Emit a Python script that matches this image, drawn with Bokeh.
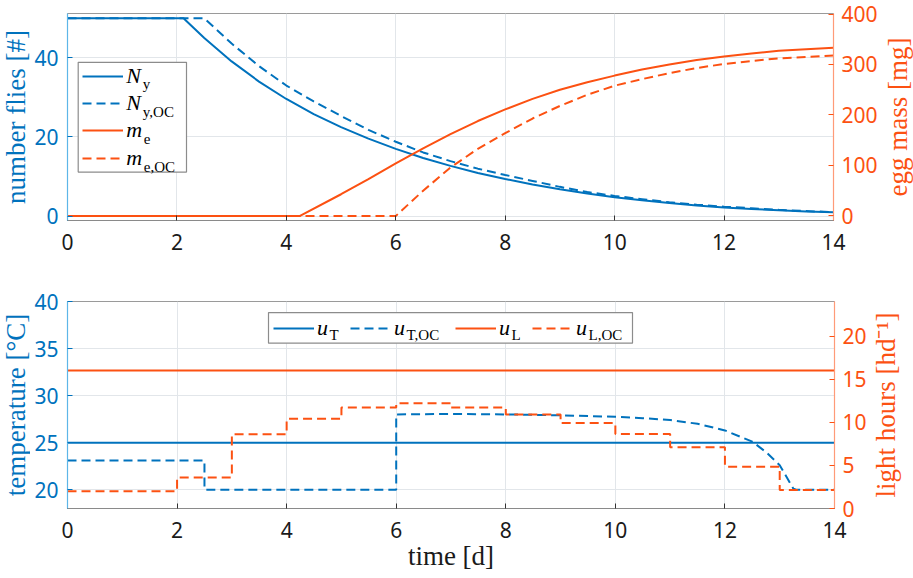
import math
from bokeh.plotting import figure
from bokeh.models import (Range1d, LinearAxis, FixedTicker, Legend, LegendItem,
                          Label, BoxAnnotation)
from bokeh.layouts import column, row
from bokeh.embed import file_html
from bokeh.resources import INLINE

# ------------------------------------------------------------------ data
x_ticks = [0, 2, 4, 6, 8, 10, 12, 14]

# top panel: number of flies (left axis) and egg mass (right axis)
t_ny = [0, 2.12, 2.5, 3, 3.5, 4, 4.5, 5, 5.5, 6, 6.5, 7, 7.5, 8, 8.5, 9,
        9.5, 10, 10.5, 11, 11.5, 12, 12.5, 13, 13.5, 14]
n_y = [50, 50, 45.0, 39.1, 34.0, 29.6, 25.8, 22.5, 19.6, 17.0, 14.7, 12.7,
       10.9, 9.4, 8.0, 6.8, 5.7, 4.8, 4.0, 3.3, 2.7, 2.2, 1.8, 1.5, 1.2, 1.0]
t_ny_oc = [0, 2.5, 3, 3.5, 4, 4.5, 5, 5.5, 6, 6.5, 7, 7.5, 8, 8.5, 9, 9.5,
           10, 10.5, 11, 11.5, 12, 12.5, 13, 13.5, 14]
n_y_oc = [50, 50, 43.6, 37.9, 33.0, 29.0, 25.3, 21.8, 18.8, 16.1, 13.9, 12.0,
          10.4, 8.9, 7.4, 6.1, 5.1, 4.3, 3.5, 2.9, 2.4, 2.0, 1.6, 1.3, 1.0]
t_me = [0, 4.25, 5, 5.5, 6, 6.5, 7, 7.5, 8, 8.5, 9, 9.5, 10, 10.5, 11, 11.5,
        12, 12.5, 13, 13.5, 14]
m_e = [0, 0, 43, 73, 104, 134, 162, 188, 211, 232, 250, 265, 278, 290, 300,
       309, 316, 322, 327, 330, 333]
t_me_oc = [0, 6, 6.5, 7, 7.5, 8, 8.5, 9, 9.5, 10, 10.5, 11, 11.5, 12, 12.5,
           13, 13.5, 14]
m_e_oc = [0, 0, 50, 96, 133, 164, 193, 218, 240, 258, 271, 283, 293, 301, 307,
          312, 315, 318]
flies_ticks = [0, 20, 40]
egg_ticks = [0, 100, 200, 300, 400]

# bottom panel: temperature (left axis) and light hours (right axis)
t_T = [0, 14]
u_T = [25, 25]
t_T_oc = [0, 2.5, 2.5, 6, 6, 7, 8, 9, 10, 10.5, 11, 11.5, 12, 12.5, 12.75,
          13, 13.25, 13.3, 14]
u_T_oc = [23.1, 23.1, 20.0, 20.0, 28.0, 28.05, 28.0, 27.9, 27.75, 27.6, 27.4,
          27.0, 26.3, 25.1, 24.0, 22.6, 20.1, 20.0, 20.0]
t_L = [0, 14]
u_L = [16, 16]
t_L_oc = [0, 2, 3, 4, 5, 6, 7, 8, 9, 10, 11, 12, 13, 14]
u_L_oc = [2.0, 3.6, 8.6, 10.4, 11.7, 12.2, 11.7, 10.9, 9.9, 8.65, 7.1, 4.85,
          2.15, 2.15]
temp_ticks = [20, 25, 30, 35, 40]
light_ticks = [0, 5, 10, 15, 20]

# ------------------------------------------------------------------ style
BLUE = "#0072BD"
BLUE_AX = "#5DB6E8"
ORANGE = "#FC5112"
ORANGE_AX = "#FF9B78"
GRID = "#E2E6EA"
TICK_FONT = "Noto Sans"
TICK_SIZE = "21px"
SERIF = "Liberation Serif"
LABEL_SIZE = "27px"
DASH = "9 5"
LW = 2

SL, L, FW = 30, 37, 767                  # left strip, left border, frame
R1, SR1 = 46, 33                         # top panel right border / strip
R2, SR2 = 36, 43                         # bottom panel right border / strip
F = 207                                  # frame height of each panel
T1, B1 = 13, 69                          # top panel borders
T2, B2 = 12, 70                          # bottom panel borders
H1 = T1 + F + B1
H2 = T2 + F + B2


def make_fig(height, right, yr, mbt, mbb):
    p = figure(width=L + FW + right, height=height, x_range=Range1d(0, 14),
               y_range=Range1d(*yr), output_backend="svg",
               toolbar_location=None, min_border_left=L,
               min_border_right=right, min_border_top=mbt,
               min_border_bottom=mbb, outline_line_color="#9a9a9a",
               outline_line_width=1, background_fill_color="white",
               border_fill_color="white")
    ax = p.xaxis[0]
    ax.ticker = FixedTicker(ticks=x_ticks)
    ax.major_tick_in = 5
    ax.major_tick_out = 0
    ax.minor_tick_line_color = None
    ax.axis_line_color = "#8a8a8a"
    ax.major_tick_line_color = "#333333"
    ax.major_label_text_font = TICK_FONT
    ax.major_label_text_font_size = TICK_SIZE
    ax.major_label_text_color = "#1a1a1a"
    ax.major_label_standoff = 13
    p.xgrid.ticker = FixedTicker(ticks=x_ticks)
    p.xgrid.grid_line_color = GRID
    p.ygrid.grid_line_color = GRID
    return p


def style_y(ax, color, axcolor, ticks, standoff):
    ax.ticker = FixedTicker(ticks=ticks)
    ax.major_tick_in = 5
    ax.major_tick_out = 0
    ax.minor_tick_line_color = None
    ax.axis_line_color = axcolor
    ax.axis_line_width = 1.2
    ax.major_tick_line_color = color
    ax.major_label_text_color = color
    ax.major_label_text_font = TICK_FONT
    ax.major_label_text_font_size = TICK_SIZE
    ax.major_label_standoff = standoff


def strip(width, height, x, text, color):
    s = figure(width=width, height=height, x_range=Range1d(0, 1),
               y_range=Range1d(0, 1), output_backend="svg",
               toolbar_location=None, x_axis_location=None,
               y_axis_location=None, min_border_left=0, min_border_right=0,
               min_border_top=0, min_border_bottom=0,
               outline_line_color=None, background_fill_color="white",
               border_fill_color="white")
    s.grid.visible = False
    s.add_layout(Label(x=x, y=F / 2, x_units="screen", y_units="screen",
                       text=text, angle=math.pi / 2, angle_units="rad",
                       text_font=SERIF, text_font_size=LABEL_SIZE,
                       text_align="center", text_baseline="middle",
                       text_color=color))
    return s


def sub_label(p, x, y, text):
    p.add_layout(Label(x=x, y=y, x_units="screen", y_units="screen",
                       text=text, text_font=SERIF, text_font_size="15px",
                       text_baseline="alphabetic", text_align="left",
                       text_color="#000000"))


def legend_box(p, left, right, bottom, top):
    p.add_layout(BoxAnnotation(left=left, right=right, bottom=bottom, top=top,
                               left_units="screen", right_units="screen",
                               bottom_units="screen", top_units="screen",
                               fill_color="white", fill_alpha=1,
                               line_color="#8c8c8c", line_width=1.2,
                               line_alpha=1))


def legend_item(p, x, yc, renderer, text, sub, dx, dy):
    lg = Legend(items=[LegendItem(label=text, renderers=[renderer])],
                location=(x, yc - 13), orientation="vertical", margin=0,
                padding=0, spacing=0, glyph_width=41, glyph_height=26,
                label_height=26, label_width=10, label_standoff=3,
                border_line_color=None, background_fill_alpha=0,
                label_text_font=SERIF, label_text_font_style="italic",
                label_text_font_size="22px", label_text_color="#000000")
    p.add_layout(lg, "center")
    sub_label(p, x + 44 + dx, yc - dy, sub)


# ------------------------------------------------------------------ top
p1 = make_fig(H1, R1, (-1.1, 51.2), T1, B1)
p1.extra_y_ranges = {"egg": Range1d(-9, 401)}
style_y(p1.yaxis[0], BLUE, BLUE_AX, flies_ticks, 9)
p1.ygrid.ticker = FixedTicker(ticks=flies_ticks)
ax_r1 = LinearAxis(y_range_name="egg")
style_y(ax_r1, ORANGE, ORANGE_AX, egg_ticks, 8)
p1.add_layout(ax_r1, "right")

r_ny = p1.line(t_ny, n_y, line_color=BLUE, line_width=LW)
r_nyoc = p1.line(t_ny_oc, n_y_oc, line_color=BLUE, line_width=LW,
                 line_dash=DASH)
r_me = p1.line(t_me, m_e, line_color=ORANGE, line_width=LW,
               y_range_name="egg")
r_meoc = p1.line(t_me_oc, m_e_oc, line_color=ORANGE, line_width=LW,
                 line_dash=DASH, y_range_name="egg")

legend_box(p1, 10.7, 119, 48.4, 158.2)
for yc, r, txt, sub, dx in [(144.3, r_ny, "N", "y", 16),
                            (117.0, r_nyoc, "N", "y,OC", 16),
                            (89.7, r_me, "m", "e", 17),
                            (62.0, r_meoc, "m", "e,OC", 17)]:
    legend_item(p1, 15.3, yc, r, txt, sub, dx, 8)

sL1 = strip(SL, H1, 15, "number flies [#]", BLUE)
sR1 = strip(SR1, H1, 17, "egg mass [mg]", ORANGE)

# ------------------------------------------------------------------ bottom
p2 = make_fig(H2, R2, (18, 40), T2, B2)
p2.extra_y_ranges = {"light": Range1d(0, 24)}
style_y(p2.yaxis[0], BLUE, BLUE_AX, temp_ticks, 9)
p2.ygrid.ticker = FixedTicker(ticks=temp_ticks)
ax_r2 = LinearAxis(y_range_name="light")
style_y(ax_r2, ORANGE, ORANGE_AX, light_ticks, 8)
p2.add_layout(ax_r2, "right")
p2.xaxis[0].axis_label = "time [d]"
p2.xaxis[0].axis_label_text_font = SERIF
p2.xaxis[0].axis_label_text_font_size = LABEL_SIZE
p2.xaxis[0].axis_label_text_font_style = "normal"
p2.xaxis[0].axis_label_text_color = "#1a1a1a"
p2.xaxis[0].axis_label_standoff = 0

r_uT = p2.line(t_T, u_T, line_color=BLUE, line_width=LW)
r_uToc = p2.line(t_T_oc, u_T_oc, line_color=BLUE, line_width=LW,
                 line_dash=DASH)
r_uL = p2.line(t_L, u_L, line_color=ORANGE, line_width=LW,
               y_range_name="light")
r_uLoc = p2.step(t_L_oc, u_L_oc, mode="after", line_color=ORANGE,
                 line_width=LW, line_dash=DASH, y_range_name="light")

legend_box(p2, 201, 565, 165.3, 195.9)
for xs, r, sub in [(206, r_uT, "T"), (283, r_uToc, "T,OC"),
                   (388, r_uL, "L"), (465, r_uLoc, "L,OC")]:
    legend_item(p2, xs, 180.4, r, "u", sub, 12, 7)

sL2 = strip(SL, H2, 15, "temperature [°C]", BLUE)
sR2 = strip(SR2, H2, 15, "light hours [hd⁻¹]", ORANGE)

layout = column(row(sL1, p1, sR1), row(sL2, p2, sR2))
open("out.html", "w").write(file_html(layout, INLINE))
